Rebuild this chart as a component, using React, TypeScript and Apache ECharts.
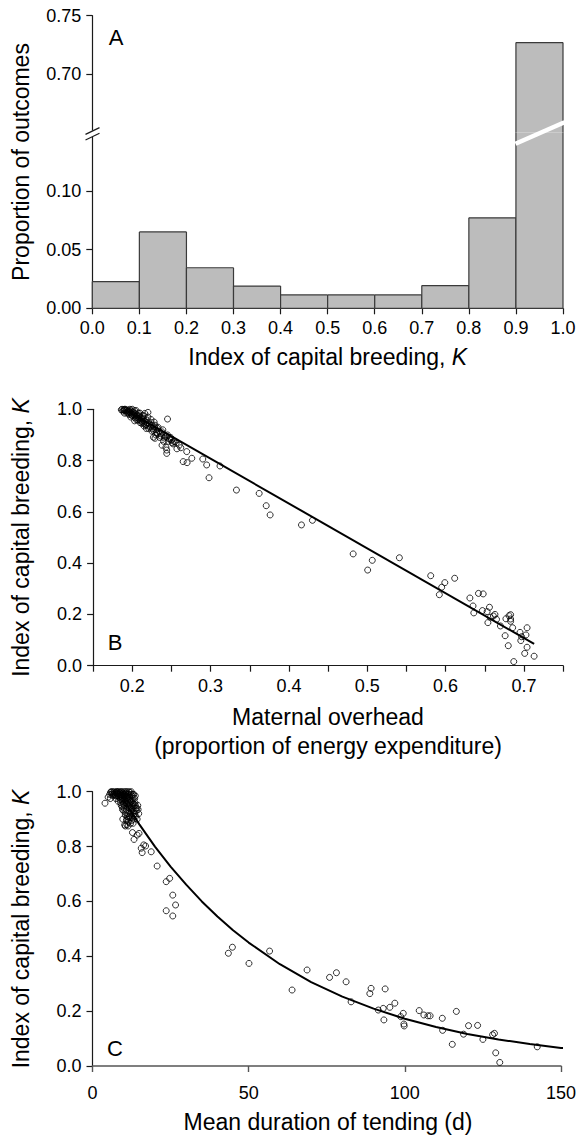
import React, { useEffect, useRef } from "react";
import * as echarts from "echarts";

// ---------- Panel A: histogram ----------
const binStarts = [0.0, 0.1, 0.2, 0.3, 0.4, 0.5, 0.6, 0.7, 0.8, 0.9];
const binEnds = [0.1, 0.2, 0.3, 0.4, 0.5, 0.6, 0.7, 0.8, 0.9, 1.0];
const proportions = [0.0228, 0.0652, 0.0346, 0.019, 0.0114, 0.0114, 0.0114, 0.0194, 0.0772, 0.727];
const histXTicks = [0, 0.1, 0.2, 0.3, 0.4, 0.5, 0.6, 0.7, 0.8, 0.9, 1.0];
const lowerYTicks = [0, 0.05, 0.1];
const upperYTicks = [0.7, 0.75];

// ---------- Panel B: maternal overhead vs K ----------
const overheadClusterPoints: [number, number][] = [
  [0.187, 1.0], [0.189, 0.998], [0.19, 0.996], [0.191, 1.0], [0.192, 0.994], [0.193, 0.998],
  [0.194, 0.99], [0.195, 0.996], [0.196, 0.992], [0.197, 0.987], [0.198, 0.995], [0.199, 0.984],
  [0.2, 0.99], [0.201, 0.98], [0.202, 0.986], [0.203, 0.975], [0.204, 0.982], [0.205, 0.97],
  [0.206, 0.978], [0.207, 0.965], [0.208, 0.972], [0.209, 0.96], [0.21, 0.968], [0.211, 0.955],
  [0.212, 0.962], [0.213, 0.95], [0.214, 0.958], [0.215, 0.945], [0.216, 0.953], [0.218, 0.94],
  [0.219, 0.948], [0.22, 0.935], [0.222, 0.943], [0.223, 0.93], [0.225, 0.938], [0.226, 0.925],
  [0.228, 0.932], [0.23, 0.92], [0.232, 0.926], [0.234, 0.915], [0.236, 0.905], [0.238, 0.912],
  [0.24, 0.9], [0.242, 0.893], [0.245, 0.9], [0.247, 0.886], [0.25, 0.88], [0.253, 0.875],
  [0.195, 0.985], [0.2, 0.975], [0.205, 0.96], [0.21, 0.948], [0.215, 0.935], [0.19, 0.985],
  [0.198, 0.97], [0.203, 0.955], [0.218, 0.925], [0.225, 0.915], [0.232, 0.905], [0.21, 0.985],
  [0.22, 0.97], [0.2, 1.0], [0.205, 0.995], [0.215, 0.975], [0.216, 0.984], [0.22, 0.988],
  [0.186, 0.998], [0.188, 0.993], [0.19, 1.0], [0.193, 0.985], [0.196, 0.98], [0.199, 0.978],
  [0.201, 0.99], [0.204, 0.966], [0.207, 0.958], [0.209, 0.975], [0.212, 0.945], [0.214, 0.965],
  [0.217, 0.938], [0.219, 0.958], [0.221, 0.925], [0.224, 0.948], [0.227, 0.918], [0.229, 0.938],
  [0.231, 0.91], [0.233, 0.93], [0.237, 0.895], [0.239, 0.92], [0.241, 0.888], [0.244, 0.895],
  [0.246, 0.875], [0.249, 0.89], [0.251, 0.87], [0.256, 0.868], [0.197, 1.0], [0.203, 0.995],
  [0.208, 0.985], [0.213, 0.975], [0.224, 0.96], [0.228, 0.95],
];
const overheadPoints: [number, number][] = [
  [0.245, 0.962], [0.227, 0.891], [0.243, 0.852], [0.244, 0.828], [0.2545, 0.874], [0.257, 0.846],
  [0.26, 0.86], [0.265, 0.796], [0.27, 0.792], [0.2695, 0.835], [0.276, 0.809], [0.29, 0.806],
  [0.295, 0.783], [0.298, 0.733], [0.312, 0.779], [0.333, 0.685], [0.362, 0.672], [0.371, 0.624],
  [0.376, 0.588], [0.416, 0.549], [0.43, 0.567], [0.482, 0.436], [0.5005, 0.373], [0.5064, 0.411],
  [0.541, 0.421], [0.581, 0.351], [0.592, 0.277], [0.595, 0.306], [0.599, 0.324], [0.6116, 0.341],
  [0.631, 0.264], [0.635, 0.233], [0.636, 0.206], [0.642, 0.282], [0.648, 0.28], [0.647, 0.215],
  [0.653, 0.211], [0.656, 0.228], [0.654, 0.168], [0.657, 0.189], [0.661, 0.194], [0.663, 0.2],
  [0.665, 0.181], [0.67, 0.155], [0.677, 0.183], [0.676, 0.117], [0.68, 0.078], [0.681, 0.195],
  [0.683, 0.182], [0.683, 0.173], [0.683, 0.199], [0.6856, 0.148], [0.687, 0.016], [0.695, 0.13],
  [0.696, 0.098], [0.697, 0.113], [0.701, 0.048], [0.7026, 0.12], [0.704, 0.148], [0.704, 0.072],
  [0.713, 0.037], [0.235, 0.89], [0.24, 0.875], [0.248, 0.883], [0.252, 0.865], [0.262, 0.85],
  [0.23, 0.9], [0.238, 0.86], [0.229, 0.887], [0.244, 0.841],
];
const overheadFit: [number, number][] = [[0.195, 0.991], [0.713, 0.085]];
const overheadLabelTicks = [0.2, 0.3, 0.4, 0.5, 0.6, 0.7];
const overheadMinorTicks = [0.15, 0.2, 0.25, 0.3, 0.35, 0.4, 0.45, 0.5, 0.55, 0.6, 0.65, 0.7, 0.75];

// ---------- Panel C: duration of tending vs K ----------
const tendingClusterPoints: [number, number][] = [
  [6, 1.0], [6.5, 0.995], [7, 1.0], [7.2, 0.99], [7.5, 0.998], [7.8, 0.985], [8, 1.0], [8.2, 0.993],
  [8.5, 0.98], [8.7, 0.997], [9, 1.0], [9.2, 0.988], [9.5, 0.975], [9.7, 0.995], [10, 1.0], [10.2, 0.985],
  [10.4, 0.97], [10.6, 0.992], [10.8, 0.96], [11, 1.0], [11.2, 0.978], [11.4, 0.95], [11.6, 0.99],
  [11.8, 0.94], [12, 0.998], [12.2, 0.965], [12.4, 0.93], [12.6, 0.985], [12.8, 0.92], [13, 0.975],
  [13.2, 0.955], [13.4, 0.91], [13.6, 0.96], [13.8, 0.94], [14, 0.93], [14.3, 0.9], [9, 0.96],
  [9.5, 0.945], [10, 0.93], [10.5, 0.915], [11, 0.9], [11.5, 0.89], [12, 0.905], [10.2, 0.95],
  [10.8, 0.935], [11.3, 0.92], [11.8, 0.91], [12.5, 0.895], [13, 0.885], [7.5, 0.975], [8.2, 0.965],
  [8.8, 0.97], [9.3, 0.99], [10.3, 0.99], [11.5, 0.975], [12.3, 0.99], [13.2, 0.99], [8, 0.99],
  [9, 0.985], [10, 0.98], [11, 0.985], [12, 0.98], [6.8, 0.99], [9.8, 0.955], [11.2, 0.965],
  [12.7, 0.95], [13.5, 0.975], [14.5, 0.95], [14.8, 0.92], [10.5, 0.875], [11, 0.88], [9.7, 0.9],
  [5.8, 0.998], [6.2, 0.99], [6.6, 0.985], [7.1, 0.995], [7.4, 0.985], [7.9, 0.995], [8.3, 0.985],
  [8.6, 0.99], [8.9, 0.975], [9.1, 0.995], [9.4, 0.98], [9.6, 0.965], [9.9, 0.99], [10.1, 0.97],
  [10.3, 0.96], [10.5, 0.98], [10.7, 0.995], [10.9, 0.975], [11.1, 0.955], [11.3, 0.99], [11.5, 0.96],
  [11.7, 0.945], [11.9, 0.97], [12.1, 0.955], [12.3, 0.94], [12.5, 0.965], [12.7, 0.935], [12.9, 0.96],
  [13.1, 0.945], [13.3, 0.93], [13.5, 0.92], [13.7, 0.95], [13.9, 0.91], [14.2, 0.94], [14.6, 0.935],
  [9.2, 0.95], [9.6, 0.935], [10.1, 0.94], [10.6, 0.925], [11.1, 0.91], [11.6, 0.905], [12.1, 0.92],
  [12.6, 0.91], [13.1, 0.9], [10.9, 0.895], [11.4, 0.875], [12.2, 0.885], [6.4, 1.0], [7.7, 1.0],
  [8.4, 1.0], [9.4, 1.0], [10.6, 1.0], [11.6, 1.0], [12.4, 1.0], [12.9, 0.99], [13.7, 0.985], [5.5, 0.99],
];
const tendingPoints: [number, number][] = [
  [4.0, 0.958], [5.0, 0.98], [5.7, 0.975], [10.3, 0.879], [12.8, 0.851], [13.3, 0.826], [14.3, 0.842],
  [14.9, 0.848], [15.6, 0.794], [15.9, 0.778], [16.4, 0.806], [17.0, 0.802], [18.8, 0.781], [20.7, 0.729],
  [23.6, 0.672], [24.7, 0.684], [25.7, 0.623], [26.6, 0.587], [23.6, 0.566], [25.7, 0.547], [43.5, 0.411],
  [44.8, 0.433], [50.1, 0.374], [56.7, 0.419], [63.9, 0.277], [68.7, 0.35], [75.9, 0.323], [78.1, 0.34],
  [81.2, 0.307], [82.8, 0.234], [88.8, 0.264], [89.2, 0.283], [91.5, 0.204], [93.1, 0.21], [93.3, 0.168],
  [93.7, 0.281], [95.2, 0.214], [96.8, 0.229], [98.7, 0.18], [99.5, 0.192], [99.7, 0.153], [99.8, 0.146],
  [104.6, 0.202], [106.1, 0.186], [107.4, 0.183], [108.1, 0.183], [112.0, 0.174], [112.1, 0.13],
  [115.2, 0.079], [116.5, 0.199], [118.8, 0.116], [120.4, 0.147], [123.3, 0.148], [125.0, 0.097],
  [128.1, 0.114], [128.7, 0.119], [129.1, 0.048], [130.4, 0.013], [142.4, 0.07],
];
const tendingFit: [number, number][] = [
  [10, 0.97], [15, 0.881], [20, 0.8], [25, 0.727], [30, 0.661], [35, 0.6], [40, 0.545], [45, 0.495],
  [50, 0.45], [60, 0.371], [70, 0.306], [80, 0.253], [90, 0.209], [100, 0.172], [110, 0.142],
  [120, 0.117], [130, 0.0968], [140, 0.0799], [150, 0.066], [156, 0.0588],
];
const tendingXTicks = [0, 50, 100, 150];
const kTicks = [0, 0.2, 0.4, 0.6, 0.8, 1.0];

const FONT = "'Liberation Sans', Arial, Helvetica, sans-serif";
const AXIS_COLOR = "#1a1a1a";

const axisLine = { show: true, lineStyle: { color: AXIS_COLOR, width: 1.2 } };
const axisTick = (values: number[]) => ({
  show: true,
  length: 6,
  customValues: values,
  lineStyle: { color: AXIS_COLOR, width: 1.2 },
});
const axisLabel = (values: number[], digits: number) => ({
  show: true,
  customValues: values,
  color: "#000",
  fontSize: 18,
  fontFamily: FONT,
  margin: 11,
  formatter: (v: number) => v.toFixed(digits),
});

export default function App() {
  const ref = useRef<HTMLDivElement>(null);

  useEffect(() => {
    if (!ref.current) return;
    const chart = echarts.init(ref.current, undefined, { renderer: "svg" });

    const histData = binStarts.map((s, i) => [s, binEnds[i], proportions[i]]);

    const renderBar = (params: any, api: any) => {
      const x0 = api.value(0);
      const x1 = api.value(1);
      const v = api.value(2);
      const cs = params.coordSys;
      const pTop = api.coord([x0, v]);
      const pBase = api.coord([x0, 0]);
      const pRight = api.coord([x1, 0]);
      const clipTop = pTop[1] < cs.y;
      const clipBottom = pBase[1] > cs.y + cs.height + 0.5;
      const top = Math.max(pTop[1], cs.y);
      const bottom = Math.min(pBase[1], cs.y + cs.height);
      if (bottom - top <= 0.5) return null;
      const left = pTop[0];
      const right = pRight[0];
      const stroke = { stroke: "#3a3a3a", lineWidth: 1.2 };
      const children: any[] = [
        { type: "rect", shape: { x: left, y: top, width: right - left, height: bottom - top }, style: { fill: "#bcbcbc" } },
        { type: "line", shape: { x1: left, y1: top, x2: left, y2: bottom }, style: stroke },
        { type: "line", shape: { x1: right, y1: top, x2: right, y2: bottom }, style: stroke },
      ];
      if (!clipTop) children.push({ type: "line", shape: { x1: left, y1: top, x2: right, y2: top }, style: stroke });
      if (!clipBottom) children.push({ type: "line", shape: { x1: left, y1: bottom, x2: right, y2: bottom }, style: stroke });
      return { type: "group", children };
    };

    const circleStyle = { color: "rgba(0,0,0,0)", borderColor: "#000", borderWidth: 1 };

    const titleStyle = (text: string, x: number, y: number, rotate: boolean) => ({
      type: "text",
      x,
      y,
      rotation: rotate ? Math.PI / 2 : 0,
      z: 100,
      style: {
        text,
        fill: "#000",
        fontSize: 23,
        fontFamily: FONT,
        align: "center",
        verticalAlign: "middle",
        textAlign: "center",
        textVerticalAlign: "middle",
        rich: { i: { fontStyle: "italic", fontSize: 23, fontFamily: FONT, fill: "#000" } },
      },
    });
    const letterStyle = (text: string, x: number, y: number) => ({
      type: "text",
      x,
      y,
      z: 100,
      style: {
        text,
        fill: "#000",
        fontSize: 22,
        fontFamily: FONT,
        align: "center",
        verticalAlign: "middle",
        textAlign: "center",
        textVerticalAlign: "middle",
      },
    });

    const option: any = {
      animation: false,
      backgroundColor: "#fff",
      grid: [
        { left: 92.3, top: 15.7, width: 470.7, height: 116.8 },
        { left: 92.3, top: 132.5, width: 470.7, height: 175.8 },
        { left: 93.1, top: 409.3, width: 470, height: 256.4 },
        { left: 92.5, top: 791.7, width: 471.5, height: 274.3 },
      ],
      xAxis: [
        { type: "value", gridIndex: 0, min: 0, max: 1, show: false, splitLine: { show: false } },
        {
          type: "value", gridIndex: 1, min: 0, max: 1, interval: 0.1,
          axisLine, axisTick: axisTick(histXTicks), axisLabel: axisLabel(histXTicks, 1), splitLine: { show: false },
        },
        {
          type: "value", gridIndex: 2, min: 0.15, max: 0.75, interval: 0.05,
          axisLine, axisTick: axisTick(overheadMinorTicks), axisLabel: axisLabel(overheadLabelTicks, 1), splitLine: { show: false },
        },
        {
          type: "value", gridIndex: 3, min: 0, max: 150, interval: 50, offset: 7,
          axisLine: { show: true, lineStyle: { color: "#555", width: 1.6 } },
          axisTick: { show: true, length: 6, customValues: tendingXTicks, lineStyle: { color: "#555", width: 1.4 } },
          axisLabel: axisLabel(tendingXTicks, 0), splitLine: { show: false },
        },
      ],
      yAxis: [
        {
          type: "value", gridIndex: 0, min: 0.65, max: 0.75, interval: 0.05,
          axisLine, axisTick: axisTick(upperYTicks), axisLabel: axisLabel(upperYTicks, 2), splitLine: { show: false },
        },
        {
          type: "value", gridIndex: 1, min: 0, max: 0.15, interval: 0.05,
          axisLine, axisTick: axisTick(lowerYTicks), axisLabel: axisLabel(lowerYTicks, 2), splitLine: { show: false },
        },
        {
          type: "value", gridIndex: 2, min: 0, max: 1, interval: 0.2,
          axisLine, axisTick: axisTick(kTicks), axisLabel: axisLabel(kTicks, 1), splitLine: { show: false },
        },
        {
          type: "value", gridIndex: 3, min: 0, max: 1, interval: 0.2,
          axisLine, axisTick: axisTick(kTicks), axisLabel: axisLabel(kTicks, 1), splitLine: { show: false },
        },
      ],
      series: [
        { type: "custom", xAxisIndex: 0, yAxisIndex: 0, data: histData, renderItem: renderBar, clip: false },
        { type: "custom", xAxisIndex: 1, yAxisIndex: 1, data: histData, renderItem: renderBar, clip: false },
        {
          type: "scatter", xAxisIndex: 2, yAxisIndex: 2, data: overheadClusterPoints.concat(overheadPoints),
          symbol: "circle", symbolSize: 6, itemStyle: circleStyle, clip: false, z: 3,
        },
        {
          type: "line", xAxisIndex: 2, yAxisIndex: 2, data: overheadFit, symbol: "none",
          lineStyle: { color: "#000", width: 2 }, clip: false, z: 4,
        },
        {
          type: "scatter", xAxisIndex: 3, yAxisIndex: 3, data: tendingClusterPoints.concat(tendingPoints),
          symbol: "circle", symbolSize: 6, itemStyle: circleStyle, clip: false, z: 3,
        },
        {
          type: "line", xAxisIndex: 3, yAxisIndex: 3, data: tendingFit, symbol: "none", smooth: false,
          lineStyle: { color: "#000", width: 2 }, clip: false, z: 4,
        },
      ],
      graphic: [
        // axis break on panel A y axis
        { type: "rect", z: 100, shape: { x: 88, y: 130.5, width: 9, height: 6.5 }, style: { fill: "#fff" } },
        { type: "line", z: 101, shape: { x1: 85.5, y1: 134.4, x2: 99.5, y2: 127.6 }, style: { stroke: AXIS_COLOR, lineWidth: 1.2 } },
        { type: "line", z: 101, shape: { x1: 85.5, y1: 140, x2: 99.5, y2: 133.2 }, style: { stroke: AXIS_COLOR, lineWidth: 1.2 } },
        // break stripe across the tall bar
        { type: "line", z: 100, shape: { x1: 515.5, y1: 143.8, x2: 564.5, y2: 122.3 }, style: { stroke: "#fff", lineWidth: 4.5 } },
        letterStyle("A", 116, 37),
        letterStyle("B", 115, 642),
        letterStyle("C", 115, 1048),
        titleStyle("Proportion of outcomes", 21, 162, true),
        titleStyle("Index of capital breeding, {i|K}", 327.7, 357, false),
        titleStyle("Index of capital breeding, {i|K}", 21, 537.5, true),
        titleStyle("Maternal overhead", 328, 717, false),
        titleStyle("(proportion of energy expenditure)", 328, 746, false),
        titleStyle("Index of capital breeding, {i|K}", 21, 929, true),
        titleStyle("Mean duration of tending (d)", 328, 1122, false),
      ],
    };

    chart.setOption(option);
    return () => chart.dispose();
  }, []);

  return (
    <div
      ref={ref}
      style={{ position: "absolute", left: 0, top: 0, width: 579, height: 1137, background: "#fff" }}
    />
  );
}
